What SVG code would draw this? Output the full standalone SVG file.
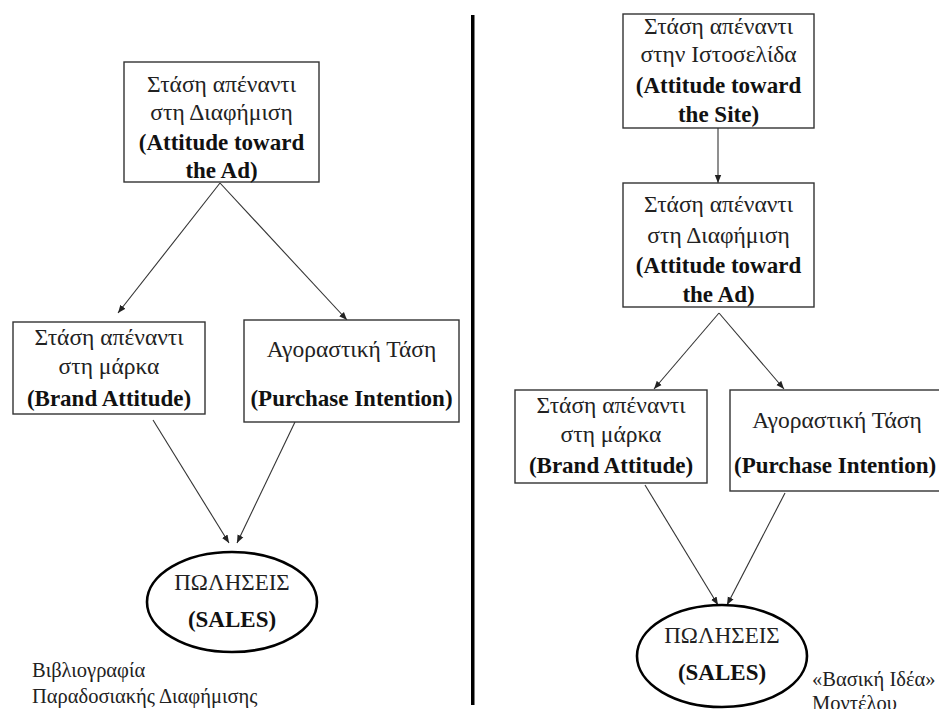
<svg xmlns="http://www.w3.org/2000/svg" width="939" height="709" viewBox="0 0 939 709">
<style>
.box{fill:#fff;stroke:#333;stroke-width:1.4}
.ell{fill:#fff;stroke:#000;stroke-width:2.6}
.t{font-family:"Liberation Serif","Times New Roman",serif;font-size:23.5px;fill:#222;text-anchor:middle}
.b{font-family:"Liberation Serif","Times New Roman",serif;font-size:23px;font-weight:bold;fill:#111;text-anchor:middle}
.s{font-family:"Liberation Serif","Times New Roman",serif;font-size:23px;fill:#222;text-anchor:middle}
.n{font-family:"Liberation Serif","Times New Roman",serif;font-size:20.5px;fill:#222}
.c line{stroke:#333;stroke-width:1.1;marker-end:url(#ah)}
</style>
<defs>
<marker id="ah" viewBox="0 0 10 10" refX="10" refY="5" markerWidth="8" markerHeight="8" markerUnits="userSpaceOnUse" orient="auto">
<path d="M0,1 L10,5 L0,9 z" fill="#222"/>
</marker>
</defs>
<rect x="471" y="15" width="3.5" height="690" fill="#000"/>
<g class="c">
<line x1="220" y1="183" x2="118" y2="313"/>
<line x1="220" y1="183" x2="347" y2="320"/>
<line x1="153" y1="420" x2="229" y2="543"/>
<line x1="295" y1="422" x2="237" y2="543"/>
<line x1="718" y1="128" x2="718" y2="183"/>
<line x1="719" y1="313" x2="654" y2="389"/>
<line x1="719" y1="313" x2="784" y2="389"/>
<line x1="645" y1="485" x2="718" y2="605"/>
<line x1="785" y1="493" x2="727" y2="605"/>
</g>
<g id="left-ad">
<rect class="box" x="124" y="62" width="195" height="120"/>
<text class="t" x="221.5" y="92">Στάση απέναντι</text>
<text class="t" x="221.5" y="120">στη Διαφήμιση</text>
<text class="b" x="221.5" y="150">(Attitude toward</text>
<text class="b" x="221.5" y="178">the Ad)</text>
</g>
<g id="left-brand">
<rect class="box" x="13" y="322" width="192" height="92"/>
<text class="t" x="109" y="345">Στάση απέναντι</text>
<text class="t" x="109" y="374">στη μάρκα</text>
<text class="b" x="109" y="406">(Brand Attitude)</text>
</g>
<g id="left-purchase">
<rect class="box" x="244" y="320" width="215" height="102"/>
<text class="t" x="351.5" y="357">Αγοραστική Τάση</text>
<text class="b" x="351.5" y="406">(Purchase Intention)</text>
</g>
<g id="left-sales">
<ellipse class="ell" cx="232" cy="602" rx="85" ry="50"/>
<text class="s" x="232" y="590">ΠΩΛΗΣΕΙΣ</text>
<text class="b" x="232" y="627">(SALES)</text>
</g>
<g id="left-note">
<text class="n" x="32" y="677">Βιβλιογραφία</text>
<text class="n" x="32" y="703">Παραδοσιακής Διαφήμισης</text>
</g>
<g id="right-site">
<rect class="box" x="623" y="14" width="191" height="114"/>
<text class="t" x="718.5" y="34">Στάση απέναντι</text>
<text class="t" x="718.5" y="62">στην Ιστοσελίδα</text>
<text class="b" x="718.5" y="93">(Attitude toward</text>
<text class="b" x="718.5" y="122">the Site)</text>
</g>
<g id="right-ad">
<rect class="box" x="623" y="183" width="191" height="124"/>
<text class="t" x="718.5" y="212">Στάση απέναντι</text>
<text class="t" x="718.5" y="243">στη Διαφήμιση</text>
<text class="b" x="718.5" y="273">(Attitude toward</text>
<text class="b" x="718.5" y="302">the Ad)</text>
</g>
<g id="right-brand">
<rect class="box" x="515" y="390" width="192" height="93"/>
<text class="t" x="611" y="413">Στάση απέναντι</text>
<text class="t" x="611" y="442">στη μάρκα</text>
<text class="b" x="611" y="473">(Brand Attitude)</text>
</g>
<g id="right-purchase">
<rect class="box" x="730" y="390" width="215" height="101"/>
<text class="t" x="837" y="428">Αγοραστική Τάση</text>
<text class="b" x="734" y="473" style="text-anchor:start">(Purchase Intention)</text>
</g>
<g id="right-sales">
<ellipse class="ell" cx="722" cy="656" rx="85" ry="51"/>
<text class="s" x="722" y="643">ΠΩΛΗΣΕΙΣ</text>
<text class="b" x="722" y="680">(SALES)</text>
</g>
<g id="right-note">
<text class="n" x="812" y="686">«Βασική Ιδέα»</text>
<text class="n" x="812" y="710">Μοντέλου</text>
</g>
</svg>
